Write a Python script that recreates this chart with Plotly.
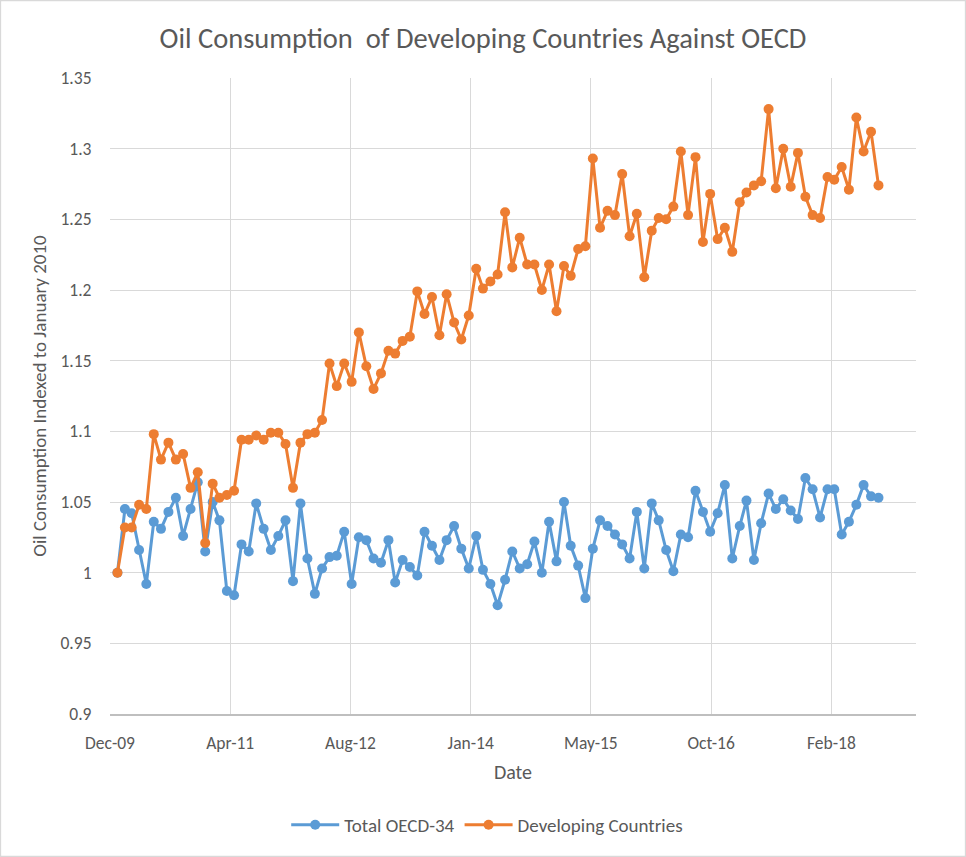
import pandas as pd
import plotly.graph_objects as go

# Monthly data, Jan 2010 - Sep 2018, indexed to Jan 2010
months = pd.date_range("2010-01-01", periods=105, freq="MS")

oecd = [
    1.000, 1.045, 1.042, 1.016, 0.992, 1.036, 1.031, 1.043, 1.053, 1.026,
    1.045, 1.064, 1.015, 1.050, 1.037, 0.987, 0.984, 1.020, 1.015, 1.049,
    1.031, 1.016, 1.026, 1.037, 0.994, 1.049, 1.010, 0.985, 1.003, 1.011,
    1.012, 1.029, 0.992, 1.025, 1.023, 1.010, 1.007, 1.023, 0.993, 1.009,
    1.004, 0.998, 1.029, 1.019, 1.009, 1.023, 1.033, 1.017, 1.003, 1.026,
    1.002, 0.992, 0.977, 0.995, 1.015, 1.003, 1.006, 1.022, 1.000, 1.036,
    1.008, 1.050, 1.019, 1.005, 0.982, 1.017, 1.037, 1.033, 1.027, 1.020,
    1.010, 1.043, 1.003, 1.049, 1.037, 1.016, 1.001, 1.027, 1.025, 1.058,
    1.043, 1.029, 1.042, 1.062, 1.010, 1.033, 1.051, 1.009, 1.035, 1.056,
    1.045, 1.052, 1.044, 1.038, 1.067, 1.059, 1.039, 1.059, 1.059, 1.027,
    1.036, 1.048, 1.062, 1.054, 1.053,
]

developing = [
    1.000, 1.032, 1.032, 1.048, 1.045, 1.098, 1.080, 1.092, 1.080, 1.084,
    1.060, 1.071, 1.021, 1.063, 1.053, 1.055, 1.058, 1.094, 1.094, 1.097,
    1.094, 1.099, 1.099, 1.091, 1.060, 1.092, 1.098, 1.099, 1.108, 1.148,
    1.132, 1.148, 1.135, 1.170, 1.146, 1.130, 1.141, 1.157, 1.155, 1.164,
    1.167, 1.199, 1.183, 1.195, 1.168, 1.197, 1.177, 1.165, 1.182, 1.215,
    1.201, 1.206, 1.211, 1.255, 1.216, 1.237, 1.218, 1.218, 1.200, 1.218,
    1.185, 1.217, 1.210, 1.229, 1.231, 1.293, 1.244, 1.256, 1.253, 1.282,
    1.238, 1.254, 1.209, 1.242, 1.251, 1.250, 1.259, 1.298, 1.253, 1.294,
    1.234, 1.268, 1.236, 1.244, 1.227, 1.262, 1.269, 1.274, 1.277, 1.328,
    1.272, 1.300, 1.273, 1.297, 1.266, 1.253, 1.251, 1.280, 1.278, 1.287,
    1.271, 1.322, 1.298, 1.312, 1.274,
]

# Excel date axis: major unit of 500 days from Dec 2009
tick_labels = ["Dec-09", "Apr-11", "Aug-12", "Jan-14", "May-15", "Oct-16", "Feb-18"]
tick_dates = [pd.Timestamp("2009-12-01") + pd.Timedelta(days=500 * i)
              for i in range(len(tick_labels))]

FONT = "Calibri, Carlito, Lato, sans-serif"
GREY = "#595959"
GRID = "#d9d9d9"

fig = go.Figure()
fig.add_trace(go.Scatter(
    x=months, y=oecd, name="Total OECD-34", mode="lines+markers",
    line=dict(color="#5B9BD5", width=3),
    marker=dict(color="#5B9BD5", size=10),
))
fig.add_trace(go.Scatter(
    x=months, y=developing, name="Developing Countries", mode="lines+markers",
    line=dict(color="#ED7D31", width=3),
    marker=dict(color="#ED7D31", size=10),
))

fig.update_layout(
    width=966, height=857,
    margin=dict(l=110, r=50, t=78, b=143),
    paper_bgcolor="white", plot_bgcolor="white",
    font=dict(family=FONT, color=GREY, size=17),
    title=dict(
        text="Oil Consumption  of Developing Countries Against OECD",
        x=0.5, xref="container", xanchor="center",
        y=1 - 38 / 857, yref="container", yanchor="middle",
        font=dict(family=FONT, size=28.5, color=GREY),
    ),
    legend=dict(
        orientation="h", x=0.468, xanchor="center", y=-0.1745, yanchor="middle",
        font=dict(family=FONT, size=19, color=GREY),
        itemwidth=48,
    ),
    showlegend=True,
)
fig.update_xaxes(
    type="date", range=["2009-12-01", "2019-02-04"],
    tickvals=tick_dates, ticktext=tick_labels,
    showgrid=True, gridcolor=GRID, gridwidth=1.3,
    showline=True, linecolor="#bfbfbf", linewidth=1.5,
    ticks="outside", ticklen=12, tickcolor="rgba(0,0,0,0)",
    tickfont=dict(size=17.5, color=GREY),
    title=dict(text="Date", font=dict(size=20, color=GREY), standoff=12),
    zeroline=False,
)
fig.update_yaxes(
    range=[0.9, 1.35], dtick=0.05, tick0=0.9,
    showgrid=True, gridcolor=GRID, gridwidth=1.3,
    showline=False, zeroline=False,
    ticks="outside", ticklen=14, tickcolor="rgba(0,0,0,0)",
    tickfont=dict(size=17.5, color=GREY),
    title=dict(text="Oil Consumption Indexed to January 2010",
               font=dict(size=19, color=GREY), standoff=8),
)

# light grey frame round the whole chart
fig.add_shape(
    type="rect", xref="paper", yref="paper",
    x0=(0.5 - 110) / 806, x1=(965.5 - 110) / 806,
    y0=(714 - 856.5) / 636, y1=(714 - 0.5) / 636,
    line=dict(color=GRID, width=1.3), layer="below",
)

# drop the browser's default page margin so the chart sits at 0,0
fig.write_html("out.html", config={"displayModeBar": False},
               post_script="document.body.style.margin='0';")
